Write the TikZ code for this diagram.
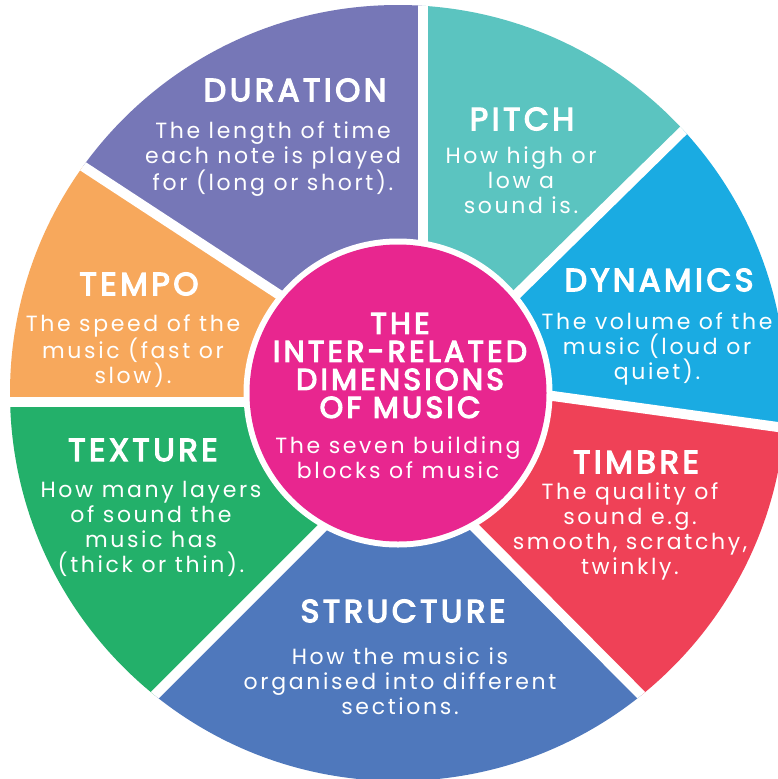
\documentclass[tikz,border=0pt]{standalone}
\usepackage{fontspec}
\setmainfont{Poppins}
\newfontfamily\headfont{Poppins}[LetterSpace=11,FakeBold=4]
\newfontfamily\bodyfont{Poppins}[LetterSpace=12]
\definecolor{cdur}{HTML}{7677B7}
\definecolor{cpit}{HTML}{5BC4C0}
\definecolor{cdyn}{HTML}{1AABE2}
\definecolor{ctim}{HTML}{EF4157}
\definecolor{cstr}{HTML}{4F78BC}
\definecolor{ctex}{HTML}{23B06A}
\definecolor{ctem}{HTML}{F7A85C}
\definecolor{cmid}{HTML}{E8268F}
\begin{document}
\begin{tikzpicture}[x=1pt,y=-1pt,
  head/.style={text=white,font=\headfont\fontsize{32}{36}\selectfont,inner sep=0pt},
  body/.style={text=white,align=center,font=\bodyfont\fontsize{22}{25}\selectfont,inner sep=0pt},
  midhead/.style={text=white,align=center,font=\headfont\fontsize{30}{28}\selectfont,inner sep=0pt},
  gapline/.style={white,line width=10pt}]
\useasboundingbox (0,0) rectangle (778,779);
\fill[white] (0,0) rectangle (778,779);
\coordinate (C) at (398,393);
% apexes of the wedges
\coordinate (aDur) at (422.5,388.6);
\coordinate (aPit) at (422.5,386.8);
\coordinate (aDyn) at (430.3,379.1);
\coordinate (aTim) at (310.7,362.6);
\coordinate (aStr) at (398.8,451.2);
\coordinate (aTex) at (448.3,401.7);
\coordinate (aTem) at (442.5,401.7);
% far points on the gap lines
\coordinate (f1) at (422.5,-500);
\coordinate (f2) at (1017.5,-197.5);
\coordinate (f3) at (1246.5,491.6);
\coordinate (f4) at (969.5,1025.4);
\coordinate (f5) at (-174,1024);
\coordinate (f6) at (-500,401.7);
\coordinate (f7) at (-307.6,-89.4);
\begin{scope}
  \clip (C) circle[radius=388pt];
  \fill[cdur] (aDur) -- (f7) -- (f1) -- cycle;
  \fill[cpit] (aPit) -- (f1) -- (f2) -- cycle;
  \fill[cdyn] (aDyn) -- (f2) -- (f3) -- cycle;
  \fill[ctim] (aTim) -- (f3) -- (f4) -- cycle;
  \fill[cstr] (aStr) -- (f4) -- (f5) -- cycle;
  \fill[ctex] (aTex) -- (f5) -- (f6) -- cycle;
  \fill[ctem] (aTem) -- (f6) -- (f7) -- cycle;
  \draw[gapline] (aPit) -- (f1);
  \draw[gapline] (aDyn) -- (f2);
  \draw[gapline] (aDyn) -- (f3);
  \draw[gapline] (aStr) -- (f4);
  \draw[gapline] (aStr) -- (f5);
  \draw[gapline] (aTem) -- (f6);
  \draw[gapline] (aDur) -- (f7);
\end{scope}
\fill[white] (C) circle[radius=154.5pt];
\fill[cmid] (C) circle[radius=148.5pt];
% texts
\node[head] (tDur) at (295,90) {DURATION};
\node[body] (bDur) at (273,159) {The length of time\\each note is played\\for (long or short).};
\node[head] (tPit) at (522,119) {PITCH};
\node[body] (bPit) at (521,180) {How high or\\low a\\sound is.};
\node[head] (tDyn) at (659,280) {DYNAMICS};
\node[body] (bDyn) at (657,349) {The volume of the\\music (loud or\\quiet).};
\node[head] (tTim) at (636,462) {TIMBRE};
\node[body] (bTim) at (630,531.5) {The quality of\\sound e.g.\\smooth, scratchy,\\twinkly.};
\node[head] (tStr) at (403,611) {STRUCTURE};
\node[body] (bStr) at (400,681) {How the music is\\organised into different\\sections.};
\node[head] (tTex) at (143,450) {TEXTURE};
\node[body] (bTex) at (151,528.5) {How many layers\\of sound the\\music has\\(thick or thin).};
\node[head] (tTem) at (139,284) {TEMPO};
\node[body] (bTem) at (133,351) {The speed of the\\music (fast or\\slow).};
\node[midhead] (tMid) at (400,365.5) {THE\\INTER-RELATED\\DIMENSIONS\\OF MUSIC};
\node[body] (bMid) at (398,458) {The seven building\\blocks of music};
\end{tikzpicture}
\end{document}
